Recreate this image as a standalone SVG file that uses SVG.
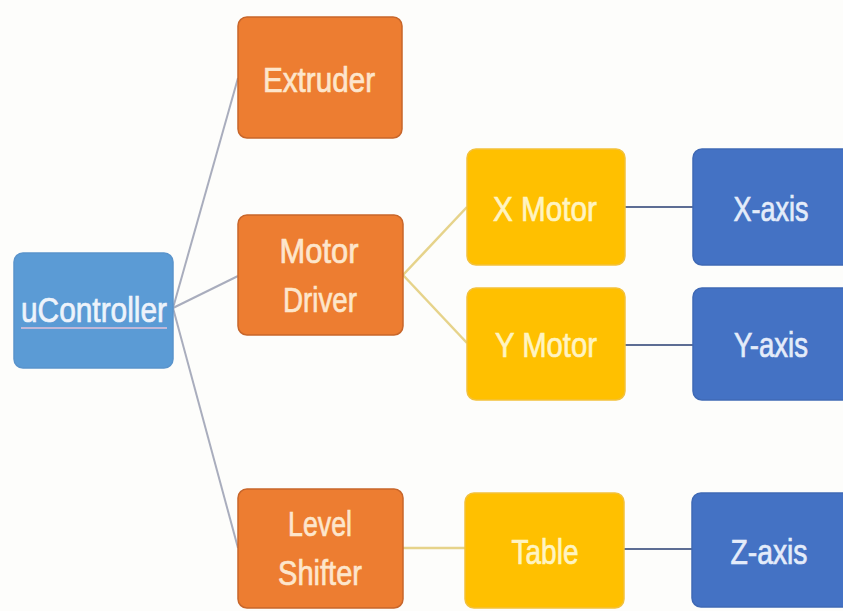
<svg xmlns="http://www.w3.org/2000/svg" width="843" height="611" viewBox="0 0 843 611">
<style>
.box{stroke-width:1.5}
.ctrl{fill:#5b9bd5;stroke:#5a94cc}
.org{fill:#ed7d31;stroke:#c8662a}
.yel{fill:#ffc000;stroke:#f3c13a}
.blu{fill:#4472c4;stroke:#3f69b5}
text{font-family:"Liberation Sans",Arial,sans-serif;font-size:35px;text-anchor:middle;stroke-width:0.7px}
.tw{fill:#eef3fb;stroke:#eef3fb}
.to{fill:#fde6cc;stroke:#fde6cc}
.ty{fill:#fff4c2;stroke:#fff4c2}
.tb{fill:#e4ecfa;stroke:#e4ecfa}
.c-grey{stroke:#a9adbd;stroke-width:2;fill:none}
.c-yel{stroke:#e6d38a;stroke-width:2.5;fill:none}
.c-blu{stroke:#5d6d94;stroke-width:2;fill:none}
</style>
<rect width="843" height="611" fill="#fdfdfb"/>
<g id="connectors">
<line class="c-grey" x1="173" y1="308" x2="238" y2="78"/>
<line class="c-grey" x1="173" y1="308" x2="238" y2="276"/>
<line class="c-grey" x1="173" y1="308" x2="238" y2="548"/>
<line class="c-yel" x1="403" y1="275" x2="467" y2="207"/>
<line class="c-yel" x1="403" y1="275" x2="467" y2="343"/>
<line class="c-blu" x1="625" y1="207" x2="693" y2="207"/>
<line class="c-blu" x1="625" y1="345" x2="693" y2="345"/>
<line class="c-yel" x1="403" y1="548" x2="465" y2="548"/>
<line class="c-blu" x1="624" y1="549" x2="692" y2="549"/>
</g>
<g id="ucontroller">
<rect class="box ctrl" x="14" y="253" width="159" height="115" rx="9"/>
<text class="tw" x="94" y="322" textLength="146" lengthAdjust="spacingAndGlyphs">uController</text>
<line x1="21" y1="328" x2="167" y2="328" stroke="#e2c2d8" stroke-width="1.5"/>
</g>
<g id="extruder">
<rect class="box org" x="238" y="17" width="164" height="121" rx="9"/>
<text class="to" x="319" y="92" textLength="112" lengthAdjust="spacingAndGlyphs">Extruder</text>
</g>
<g id="motor-driver">
<rect class="box org" x="238" y="215" width="165" height="120" rx="9"/>
<text class="to" x="319" y="263" textLength="79" lengthAdjust="spacingAndGlyphs">Motor</text>
<text class="to" x="320" y="312" textLength="74" lengthAdjust="spacingAndGlyphs">Driver</text>
</g>
<g id="level-shifter">
<rect class="box org" x="238" y="489" width="165" height="119" rx="9"/>
<text class="to" x="320" y="536" textLength="64" lengthAdjust="spacingAndGlyphs">Level</text>
<text class="to" x="320" y="585" textLength="84" lengthAdjust="spacingAndGlyphs">Shifter</text>
</g>
<g id="x-motor">
<rect class="box yel" x="467" y="149" width="158" height="116" rx="9"/>
<text class="ty" x="545" y="221" textLength="104" lengthAdjust="spacingAndGlyphs">X Motor</text>
</g>
<g id="y-motor">
<rect class="box yel" x="467" y="288" width="158" height="112" rx="9"/>
<text class="ty" x="546" y="357" textLength="102" lengthAdjust="spacingAndGlyphs">Y Motor</text>
</g>
<g id="table">
<rect class="box yel" x="465" y="493" width="159" height="115" rx="9"/>
<text class="ty" x="545" y="564" textLength="67" lengthAdjust="spacingAndGlyphs">Table</text>
</g>
<g id="x-axis">
<rect class="box blu" x="693" y="149" width="160" height="116" rx="9"/>
<text class="tb" x="771" y="221" textLength="75" lengthAdjust="spacingAndGlyphs">X-axis</text>
</g>
<g id="y-axis">
<rect class="box blu" x="693" y="288" width="160" height="112" rx="9"/>
<text class="tb" x="771" y="357" textLength="74" lengthAdjust="spacingAndGlyphs">Y-axis</text>
</g>
<g id="z-axis">
<rect class="box blu" x="692" y="493" width="160" height="114" rx="9"/>
<text class="tb" x="769" y="564" textLength="77" lengthAdjust="spacingAndGlyphs">Z-axis</text>
</g>
</svg>
